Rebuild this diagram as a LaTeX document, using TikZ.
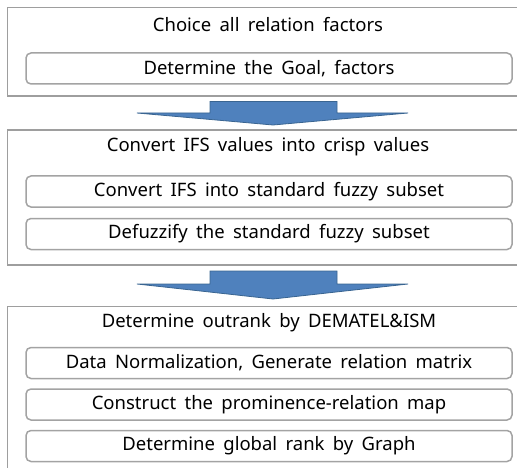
\documentclass[tikz,border=0pt]{standalone}
\usepackage{fontspec}
\setmainfont{Noto Sans}
\begin{document}
\begin{tikzpicture}[x=1pt,y=-1pt,
  outer/.style={draw=black!38, line width=1.5pt},
  inner/.style={draw=black!36, line width=1.5pt, rounded corners=5pt, minimum width=486pt, minimum height=31pt, inner sep=0pt, font=\wordsp},
  title/.style={inner sep=0pt, font=\wordsp},
  bigarrow/.style={fill=arrowfill, draw=arrowedge, line width=0.8pt, line join=miter}]
\definecolor{arrowfill}{HTML}{4F81BD}
\definecolor{arrowedge}{HTML}{3A6591}
\newcommand{\wordsp}{\fontsize{18.5}{21}\selectfont\spaceskip=0.45em plus 0.1em}
\useasboundingbox (0,0) rectangle (517,468);
\clip (0,0) rectangle (517,468);
% outer frames
\draw[outer] (7.5,7.5) rectangle (530,96);
\draw[outer] (7.5,130) rectangle (530,265);
\draw[outer] (7.5,306.5) rectangle (530,490);
% group 1
\node[title] (t1) at (268,25) {Choice all relation factors};
\node[inner] (b11) at (269,68.5) {Determine the Goal, factors};
% arrow 1
\draw[bigarrow] (210,101.5) -- (337,101.5) -- (337,113) -- (408,113) -- (273,125) -- (137,113) -- (210,113) -- cycle;
% group 2
\node[title] (t2) at (268,147) {Convert IFS values into crisp values};
\node[inner] (b21) at (269,191.5) {Convert IFS into standard fuzzy subset};
\node[inner] (b22) at (269,234) {Defuzzify the standard fuzzy subset};
% arrow 2
\draw[bigarrow] (210,271) -- (337,271) -- (337,284) -- (408,284) -- (273,299) -- (137,284) -- (210,284) -- cycle;
% group 3
\node[title] (t3) at (269,322.5) {Determine outrank by DEMATEL\&ISM};
\node[inner] (b31) at (269,363) {Data Normalization, Generate relation matrix};
\node[inner] (b32) at (269,404.5) {Construct the prominence-relation map};
\node[inner] (b33) at (269,446) {Determine global rank by Graph};
\end{tikzpicture}
\end{document}
